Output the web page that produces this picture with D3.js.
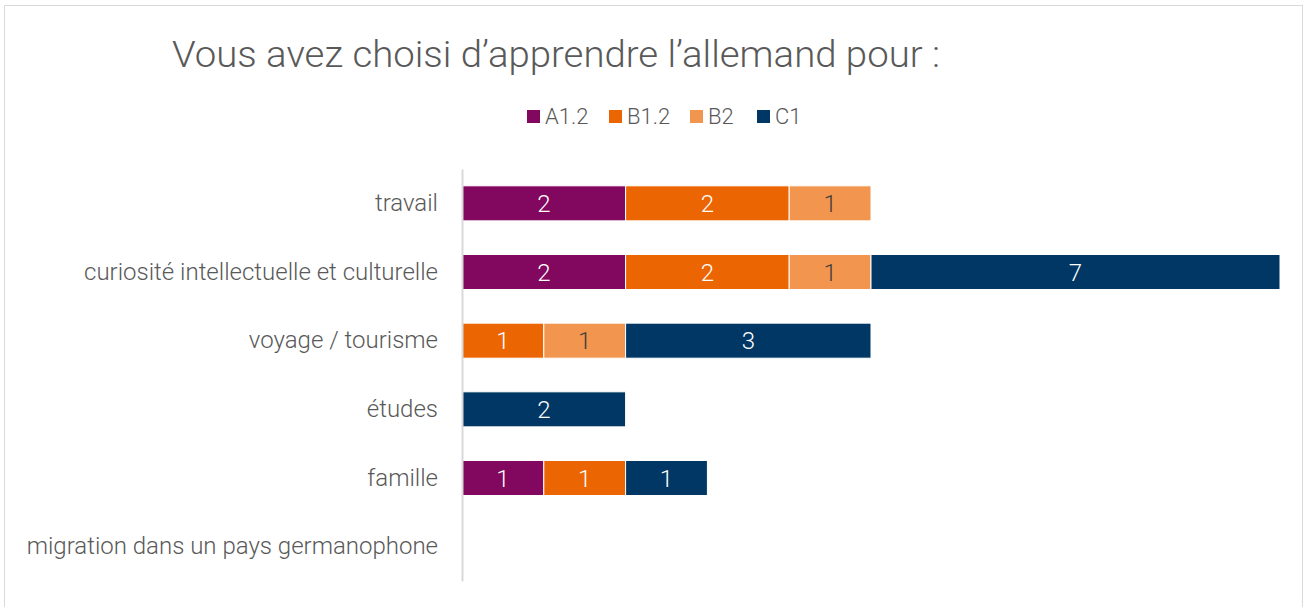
<!DOCTYPE html>
<html>
<head>
<meta charset="utf-8">
<script src="https://cdn.jsdelivr.net/npm/d3@7"></script>
<style>
  body { margin: 0; background: #fff; }
  text { font-family: Roboto, "Open Sans", sans-serif; font-weight: 300; }
</style>
</head>
<body>
<svg id="chart" width="1306" height="607"></svg>
<script>
var categories = ["travail", "curiosité intellectuelle et culturelle", "voyage / tourisme", "études", "famille", "migration dans un pays germanophone"];
var series = ["A1.2", "B1.2", "B2", "C1"];
var valA12 = [2, 2, 0, 0, 1, 0];
var valB12 = [2, 2, 1, 0, 1, 0];
var valB2  = [1, 1, 1, 0, 0, 0];
var valC1  = [0, 7, 3, 2, 1, 0];
var xMax = 10;

var svg = d3.select("#chart"),
    width = +svg.attr("width"),
    height = +svg.attr("height");

/* couleurs */
var color = d3.scaleOrdinal(series, ["#82075e", "#ec6503", "#f2954f", "#003764"]);
var labelColor = { "A1.2": "#fff", "B1.2": "#fff", "B2": "#404040", "C1": "#fff" };

// cadre
svg.append("rect")
    .attr("x", 4.5).attr("y", 5.5)
    .attr("width", width - 8).attr("height", height)
    .attr("fill", "#fff").attr("stroke", "#d9d9d9");

// titre
svg.append("text")
    .attr("x", 172).attr("y", 67)
    .attr("font-size", 37)
    .attr("textLength", 768)
    .attr("lengthAdjust", "spacingAndGlyphs")
    .attr("fill", "#595959")
    .text("Vous avez choisi d’apprendre l’allemand pour :");

// tableau pour d3.stack
var data = categories.map(function(c, i) {
  return { cat: c, "A1.2": valA12[i], "B1.2": valB12[i], "B2": valB2[i], "C1": valC1[i] };
});
var stacked = d3.stack().keys(series)(data);

var x = d3.scaleLinear().domain([0, xMax]).range([462, 1280]).clamp(true);
var y = d3.scaleBand().domain(categories).range([169, 581]).paddingInner(0.49).paddingOuter(0.245);

// legende
var legendX = [527, 609, 690, 757];
var leg = svg.append("g").selectAll("g")
    .data(series)
    .enter().append("g")
    .attr("transform", function(d, i) { return "translate(" + legendX[i] + ",110)"; });
leg.append("rect")
    .attr("width", 13).attr("height", 13)
    .attr("fill", function(d) { return color(d); });
leg.append("text")
    .attr("x", 18).attr("y", 14)
    .attr("font-size", 22)
    .attr("fill", "#595959")
    .text(function(d) { return d; });

// barres
var layer = svg.append("g").selectAll("g")
    .data(stacked)
    .enter().append("g")
    .attr("fill", function(d) { return color(d.key); });

layer.selectAll("rect")
    .data(function(d) { return d; })
    .enter().append("rect")
    .attr("x", function(d) { return x(d[0]); })
    .attr("y", function(d) { return y(d.data.cat); })
    .attr("width", function(d) { return x(d[1]) - x(d[0]); })
    .attr("height", y.bandwidth())
    .attr("stroke", "#fff")
    .attr("stroke-width", 1);

// etiquettes de valeurs
stacked.forEach(function(s) {
  svg.append("g").selectAll("text")
      .data(s.filter(function(d) { return d[1] - d[0] > 0; }))
      .enter().append("text")
      .attr("x", function(d) { return (x(d[0]) + x(d[1])) / 2; })
      .attr("y", function(d) { return y(d.data.cat) + y.bandwidth() / 2; })
      .attr("dy", "0.36em")
      .attr("text-anchor", "middle")
      .attr("font-size", 24)
      .attr("fill", labelColor[s.key])
      .text(function(d) { return d[1] - d[0]; });
});

// axe vertical
var yAxis = svg.append("g")
    .attr("transform", "translate(462,0)")
    .call(d3.axisLeft(y).tickSize(0).tickPadding(24));
yAxis.select(".domain").attr("stroke", "#d9d9d9").attr("stroke-width", 2);
yAxis.selectAll("text")
    .attr("font-size", 24)
    .attr("font-family", "Roboto")
    .attr("fill", "#595959");
</script>
</body>
</html>
